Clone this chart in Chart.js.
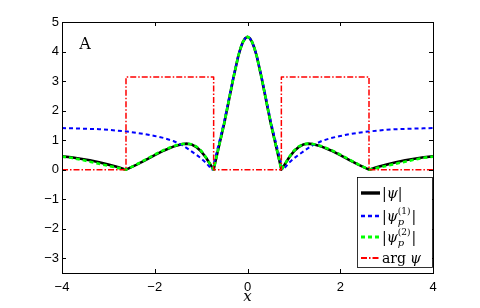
<!DOCTYPE html>
<html><head><meta charset="utf-8">
<script src="https://cdn.jsdelivr.net/npm/chart.js@4/dist/chart.umd.min.js"></script>
<style>html,body{margin:0;padding:0;background:#fff}#wrap{width:480px;height:308px}</style>
</head><body><div id="wrap"><canvas id="c" width="480" height="308"></canvas></div>
<script>
const xTickValues = [-4, -2, 0, 2, 4];
const xTickLabels = ['−4', '−2', '0', '2', '4'];
const yTickValues = [-3, -2, -1, 0, 1, 2, 3, 4, 5];
const yTickLabels = ['−3', '−2', '−1', '0', '1', '2', '3', '4', '5'];

const seriesNames = ['|ψ|', '|ψp(1)|', '|ψp(2)|', 'arg ψ'];

const xPsi = [-4,-3.8,-3.6,-3.4,-3.2,-3,-2.8,-2.62,-2.4,-2.2,-2,-1.8,-1.6,-1.5,-1.4,-1.3,-1.2,-1.1,-1,-0.9,-0.8,-0.73,-0.7,-0.6,-0.5,-0.4,-0.3,-0.2,-0.15,-0.1,-0.05,
  0,
  0.05,0.1,0.15,0.2,0.3,0.4,0.5,0.6,0.7,0.73,0.8,0.9,1,1.1,1.2,1.3,1.4,1.5,1.6,1.8,2,2.2,2.4,2.62,2.8,3,3.2,3.4,3.6,3.8,4];
const yPsi = [0.45,0.42,0.37,0.32,0.25,0.17,0.09,0,0.16,0.32,0.49,0.65,0.78,0.83,0.87,0.88,0.85,0.76,0.62,0.42,0.17,0,0.22,0.90,1.58,2.36,3.14,3.84,4.11,4.32,4.45,
  4.50,
  4.45,4.32,4.11,3.84,3.14,2.36,1.58,0.90,0.22,0,0.17,0.42,0.62,0.76,0.85,0.88,0.87,0.83,0.78,0.65,0.49,0.32,0.16,0,0.09,0.17,0.25,0.32,0.37,0.42,0.45];

const xP2 = xPsi;
const yP2 = [0.44,0.40,0.34,0.27,0.20,0.13,0.06,0,0.17,0.34,0.51,0.67,0.79,0.84,0.87,0.88,0.86,0.78,0.64,0.43,0.17,0,0.22,0.90,1.58,2.36,3.14,3.84,4.11,4.32,4.45,
  4.50,
  4.45,4.32,4.11,3.84,3.14,2.36,1.58,0.90,0.22,0,0.17,0.43,0.64,0.78,0.86,0.88,0.87,0.84,0.79,0.67,0.51,0.34,0.17,0,0.06,0.13,0.20,0.27,0.34,0.40,0.44];

const xP1 = [-4,-3.8,-3.6,-3.4,-3.2,-3,-2.8,-2.6,-2.4,-2.2,-2,-1.8,-1.6,-1.4,-1.3,-1.2,-1.1,-1,-0.9,-0.8,-0.76,-0.7,-0.6,-0.5,-0.4,-0.3,-0.2,-0.15,-0.1,-0.05,
  0,
  0.05,0.1,0.15,0.2,0.3,0.4,0.5,0.6,0.7,0.76,0.8,0.9,1,1.1,1.2,1.3,1.4,1.6,1.8,2,2.2,2.4,2.6,2.8,3,3.2,3.4,3.6,3.8,4];
const yP1 = [1.41,1.40,1.39,1.38,1.37,1.35,1.32,1.29,1.25,1.20,1.14,1.07,0.97,0.82,0.72,0.61,0.50,0.38,0.24,0.06,0,0.38,1.00,1.66,2.42,3.17,3.85,4.12,4.32,4.45,
  4.50,
  4.45,4.32,4.12,3.85,3.17,2.42,1.66,1.00,0.38,0,0.06,0.24,0.38,0.50,0.61,0.72,0.82,0.97,1.07,1.14,1.20,1.25,1.29,1.32,1.35,1.37,1.38,1.39,1.40,1.41];

const xArg = [-4,-2.62,-2.62,-0.73,-0.73,0.73,0.73,2.62,2.62,4];
const yArg = [0,0,3.1416,3.1416,0,0,3.1416,3.1416,0,0];

const pts = (xs, ys) => xs.map((x, i) => ({x: x, y: ys[i]}));

const styles = [
  {color: '#000000', width: 2.6, dash: []},
  {color: '#0000ff', width: 2, dash: [4, 3]},
  {color: '#00ff00', width: 2.6, dash: [4, 3]},
  {color: '#ff0000', width: 1.5, dash: [6, 2, 1.5, 2]}
];

const frame = {
  id: 'frame',
  afterDraw(chart) {
    const ctx = chart.ctx, a = chart.chartArea;
    const xs = chart.scales.x, ys = chart.scales.y;
    ctx.save();
    ctx.strokeStyle = '#000'; ctx.lineWidth = 1; ctx.setLineDash([]);
    ctx.strokeRect(Math.round(a.left) + 0.5, Math.round(a.top) + 0.5, Math.round(a.right - a.left), Math.round(a.bottom - a.top));
    const tl = 4;
    ctx.beginPath();
    xTickValues.forEach(v => {
      const px = Math.round(xs.getPixelForValue(v)) + 0.5;
      ctx.moveTo(px, a.bottom); ctx.lineTo(px, a.bottom - tl);
      ctx.moveTo(px, a.top); ctx.lineTo(px, a.top + tl);
    });
    yTickValues.forEach(v => {
      const py = Math.round(ys.getPixelForValue(v)) + 0.5;
      ctx.moveTo(a.left, py); ctx.lineTo(a.left + tl, py);
      ctx.moveTo(a.right, py); ctx.lineTo(a.right - tl, py);
    });
    ctx.stroke();

    // panel label
    ctx.fillStyle = '#000';
    ctx.font = '16px "DejaVu Serif"';
    ctx.textAlign = 'center'; ctx.textBaseline = 'middle';
    ctx.fillText('A', 85, 45);

    // x axis title
    ctx.font = 'italic 15px "DejaVu Serif"';
    ctx.fillText('x', (a.left + a.right) / 2, 297);

    // legend
    const bx = 357, by = 177, bw = 75, bh = 90;
    ctx.fillStyle = '#fff';
    ctx.fillRect(bx, by, bw, bh);
    ctx.strokeStyle = '#000'; ctx.lineWidth = 0.8;
    ctx.strokeRect(bx + 0.5, by + 0.5, bw, bh);
    const rows = [193, 216, 237, 258];
    const up = '14px "DejaVu Serif"', it = 'italic 14px "DejaVu Serif"';
    const smUp = '9px "DejaVu Serif"', smIt = 'italic 10px "DejaVu Serif"';
    rows.forEach((ry, i) => {
      const s = styles[i];
      ctx.beginPath();
      ctx.strokeStyle = s.color; ctx.lineWidth = s.width + (i === 0 ? 0.8 : 0.4);
      ctx.setLineDash(s.dash);
      ctx.moveTo(361, ry); ctx.lineTo(380, ry);
      ctx.stroke();
      ctx.setLineDash([]);
      ctx.fillStyle = '#000';
      ctx.textAlign = 'left'; ctx.textBaseline = 'alphabetic';
      let x = 382;
      const base = ry + 5;
      const put = (t, f, dy) => { ctx.font = f; ctx.fillText(t, x, base + (dy || 0)); x += ctx.measureText(t).width; };
      if (i === 0) {
        put('|', up); put('ψ', it); put('|', up);
      } else if (i === 1 || i === 2) {
        put('|', up); put('ψ', it);
        const x0 = x;
        ctx.font = smIt; ctx.fillText('p', x0, base + 4);
        const wp = ctx.measureText('p').width;
        ctx.font = smUp; const sup = i === 1 ? '(1)' : '(2)';
        ctx.fillText(sup, x0, base - 7);
        x = x0 + Math.max(wp, ctx.measureText(sup).width) + 1;
        put('|', up);
      } else {
        put('arg', up); x += 4; put('ψ', it);
      }
    });
    ctx.restore();
  }
};

const data = {
  datasets: [
    {label: seriesNames[0], data: pts(xPsi, yPsi), order: 4},
    {label: seriesNames[1], data: pts(xP1, yP1), order: 3},
    {label: seriesNames[2], data: pts(xP2, yP2), order: 2},
    {label: seriesNames[3], data: pts(xArg, yArg), order: 1}
  ].map((d, i) => Object.assign(d, {
    borderColor: styles[i].color, borderWidth: styles[i].width, borderDash: styles[i].dash,
    pointRadius: 0, tension: 0, fill: false, borderJoinStyle: 'round'
  }))
};

new Chart(document.getElementById('c'), {
  type: 'line',
  data: data,
  plugins: [frame],
  options: {
    responsive: false, animation: false, devicePixelRatio: 1,
    layout: {padding: {top: 22, right: 47, left: 0, bottom: 0}},
    plugins: {legend: {display: false}, tooltip: {enabled: false}},
    scales: {
      x: {
        type: 'linear', min: -4, max: 4,
        grid: {display: false, drawTicks: false}, border: {display: false},
        afterBuildTicks: s => { s.ticks = xTickValues.map(v => ({value: v})); },
        afterFit: s => { s.height = 35; },
        ticks: {color: '#000', font: {family: '"Liberation Sans"', size: 13}, padding: 7, maxRotation: 0,
          callback: v => xTickLabels[xTickValues.indexOf(v)]}
      },
      y: {
        type: 'linear', min: -3.5, max: 5,
        grid: {display: false, drawTicks: false}, border: {display: false},
        afterBuildTicks: s => { s.ticks = yTickValues.map(v => ({value: v})); },
        afterFit: s => { s.width = 62; },
        ticks: {color: '#000', font: {family: '"Liberation Sans"', size: 13}, padding: 3,
          callback: v => yTickLabels[yTickValues.indexOf(v)]}
      }
    }
  }
});
</script></body></html>
